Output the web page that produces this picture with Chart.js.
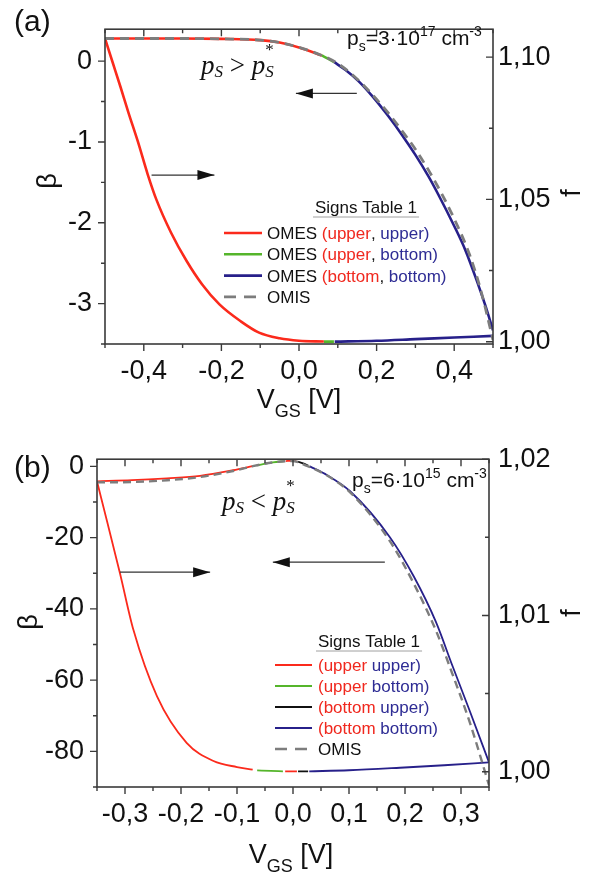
<!DOCTYPE html>
<html>
<head>
<meta charset="utf-8">
<script src="https://cdn.jsdelivr.net/npm/chart.js@4"></script>
<style>
  html, body { margin: 0; padding: 0; background: #fff; }
  #wrap { position: relative; width: 592px; height: 876px; }
  canvas { position: absolute; left: 0; }
  #chartA { top: 0; }
  #chartB { top: 430px; }
</style>
</head>
<body>
<div id="wrap">
  <canvas id="chartA" width="592" height="430"></canvas>
  <canvas id="chartB" width="592" height="446"></canvas>
</div>
<script>
// ---------- panel (a): p_s = 3e17 cm^-3 ----------
const aXTicks = [-0.4, -0.2, 0, 0.2, 0.4];
const aXMinor = [-0.5, -0.3, -0.1, 0.1, 0.3, 0.5];
const aYTicks = [0, -1, -2, -3];
const aYMinor = [-0.5, -1.5, -2.5, -3.5];
const aFTicks = [1.00, 1.05, 1.10];
const aFMinor = [1.025, 1.075];

const aUpperRedX = [-0.5, -0.3, -0.2, -0.1, -0.05, 0.0, 0.059];
const aUpperRedY = [0.28, 0.28, 0.275, 0.26, 0.23, 0.17, 0.07];
const aUpperGreenX = [0.059, 0.075, 0.09];
const aUpperGreenY = [0.07, 0.03, -0.01];
const aUpperBlueX = [0.09, 0.12, 0.154, 0.19, 0.23, 0.265, 0.30, 0.333, 0.359, 0.40, 0.428, 0.46, 0.48, 0.5];
const aUpperBlueY = [-0.01, -0.11, -0.25, -0.44, -0.68, -0.91, -1.16, -1.42, -1.65, -2.04, -2.33, -2.74, -3.02, -3.33];

const aLowerRedX = [-0.5, -0.48, -0.46, -0.44, -0.415, -0.39, -0.367, -0.33, -0.29, -0.25, -0.205, -0.15, -0.103, -0.05, 0.0, 0.064];
const aLowerRedY = [0.28, -0.02, -0.32, -0.63, -1.0, -1.40, -1.72, -2.12, -2.47, -2.76, -3.01, -3.22, -3.36, -3.43, -3.46, -3.47];
const aLowerGreenX = [0.064, 0.09];
const aLowerGreenY = [-3.47, -3.47];
const aLowerBlueX = [0.092, 0.2, 0.3, 0.4, 0.5];
const aLowerBlueY = [-3.47, -3.46, -3.44, -3.42, -3.40];

const aOmisX = [-0.5, -0.3, -0.2, -0.1, -0.05, 0.0, 0.059, 0.103, 0.154, 0.19, 0.23, 0.265, 0.30, 0.346, 0.40, 0.44, 0.47, 0.5];
const aOmisY = [0.28, 0.28, 0.275, 0.26, 0.23, 0.17, 0.07, -0.04, -0.24, -0.42, -0.64, -0.86, -1.09, -1.45, -1.95, -2.40, -2.86, -3.45];

// ---------- panel (b): p_s = 6e15 cm^-3 ----------
const bXTicks = [-0.3, -0.2, -0.1, 0, 0.1, 0.2, 0.3];
const bXMinor = [-0.35, -0.25, -0.15, -0.05, 0.05, 0.15, 0.25, 0.35];
const bYTicks = [0, -20, -40, -60, -80];
const bYMinor = [-10, -30, -50, -70, -90];
const bFTicks = [1.00, 1.01, 1.02];
const bFMinor = [1.005, 1.015];

const bUpperRed1X = [-0.35, -0.2875, -0.225, -0.166, -0.107, -0.072];
const bUpperRed1Y = [-4.2, -3.9, -3.36, -2.66, -1.1, 0.05];
const bUpperGreenX = [-0.065, -0.036, -0.015];
const bUpperGreenY = [0.25, 1.12, 1.45];
const bUpperRed2X = [-0.013, -0.002, 0.006];
const bUpperRed2Y = [1.48, 1.54, 1.45];
const bUpperBlackX = [0.008, 0.018, 0.027];
const bUpperBlackY = [1.35, 0.85, 0.25];
const bUpperBlueX = [0.03, 0.061, 0.102, 0.173, 0.216, 0.255, 0.284, 0.316, 0.35];
const bUpperBlueY = [0.0, -2.5, -7.0, -19.9, -31.0, -43.6, -55.7, -68.8, -83.1];

const bLowerRed1X = [-0.35, -0.343, -0.309, -0.285, -0.243, -0.19, -0.142, -0.1, -0.072];
const bLowerRed1Y = [-4.2, -8.6, -30.0, -45.9, -64.5, -77.6, -82.7, -84.4, -85.1];
const bLowerGreenX = [-0.064, -0.04, -0.018];
const bLowerGreenY = [-85.35, -85.5, -85.6];
const bLowerRed2X = [-0.014, 0.007];
const bLowerRed2Y = [-85.6, -85.6];
const bLowerBlackX = [0.009, 0.027];
const bLowerBlackY = [-85.6, -85.6];
const bLowerBlueX = [0.029, 0.1, 0.191, 0.27, 0.35];
const bLowerBlueY = [-85.6, -85.3, -84.6, -83.9, -83.1];

const bOmisX = [-0.35, -0.2875, -0.225, -0.166, -0.107, -0.073, -0.036, -0.002, 0.025, 0.061, 0.102, 0.173, 0.216, 0.255, 0.284, 0.316, 0.35];
const bOmisY = [-4.5, -4.4, -3.9, -3.0, -1.3, 0.0, 1.1, 1.5, 0.1, -2.6, -7.3, -21.0, -33.0, -46.0, -58.0, -72.0, -89.5];

// colours
const RED = '#fb2a1c';
const GREEN = '#55b52b';
const NAVY = '#27208a';
const GREY = '#7d7d7d';
const BLACK = '#111111';
const TXT_RED = '#f0281e';
const TXT_BLUE = '#2e2c94';

const SANS = 'Arial, "Liberation Sans", sans-serif';
const SERIF = '"Liberation Serif", "Times New Roman", serif';

function fmt(v, d) {
    return v.toFixed(d).replace('.', ',');
}

function series(xs, ys, color, width, dash) {
    return {
        data: xs.map((x, i) => ({ x: x, y: ys[i] })),
        borderColor: color,
        borderWidth: width,
        borderDash: dash || [],
        pointRadius: 0,
        fill: false,
        cubicInterpolationMode: 'monotone',
        order: dash ? 0 : 1
    };
}

// draws mixed-font text; parts = {t, f, dy, c, stack}
function rich(ctx, x, y, parts) {
    let cx = x, prev = x;
    ctx.textAlign = 'left';
    ctx.textBaseline = 'alphabetic';
    parts.forEach(p => {
        ctx.font = p.f;
        ctx.fillStyle = p.c || BLACK;
        const px = p.stack ? prev : cx;
        ctx.fillText(p.t, px, y + (p.dy || 0));
        if (!p.stack) {
            prev = cx;
            cx += ctx.measureText(p.t).width;
        }
    });
    return cx - x;
}

function richWidth(ctx, parts) {
    let w = 0;
    parts.forEach(p => { if (!p.stack) { ctx.font = p.f; w += ctx.measureText(p.t).width; } });
    return w;
}

function arrow(ctx, x0, x1, y) {
    ctx.strokeStyle = '#333';
    ctx.lineWidth = 1.3;
    ctx.beginPath();
    ctx.moveTo(x0, y);
    ctx.lineTo(x1, y);
    ctx.stroke();
    const dir = x1 > x0 ? 1 : -1;
    ctx.fillStyle = BLACK;
    ctx.beginPath();
    ctx.moveTo(x1, y);
    ctx.lineTo(x1 - dir * 17, y - 5);
    ctx.lineTo(x1 - dir * 17, y + 5);
    ctx.closePath();
    ctx.fill();
}

// frame, tick marks, titles, annotations and legend
const decorPlugin = {
    id: 'decor',
    afterDraw(chart, args, o) {
        const { ctx, chartArea: a, scales } = chart;
        const sx = scales.x, sy = scales.y, sf = scales.y1;
        ctx.save();

        // frame
        ctx.strokeStyle = '#3a3a3a';
        ctx.lineWidth = 1.6;
        ctx.strokeRect(a.left, a.top, a.right - a.left, a.bottom - a.top);

        ctx.lineWidth = 1.4;
        ctx.beginPath();
        const tick = (vals, len) => {
            vals.forEach(v => {
                const px = sx.getPixelForValue(v);
                ctx.moveTo(px, a.bottom); ctx.lineTo(px, a.bottom + len);
                ctx.moveTo(px, a.top); ctx.lineTo(px, a.top + len);
            });
        };
        tick(o.xTicks, 7);
        tick(o.xMinor, 4);
        o.yTicks.forEach(v => { const py = sy.getPixelForValue(v); ctx.moveTo(a.left, py); ctx.lineTo(a.left - 7, py); });
        o.yMinor.forEach(v => { const py = sy.getPixelForValue(v); ctx.moveTo(a.left, py); ctx.lineTo(a.left - 4, py); });
        o.fTicks.forEach(v => { const py = sf.getPixelForValue(v); ctx.moveTo(a.right, py); ctx.lineTo(a.right - 7, py); });
        o.fMinor.forEach(v => { const py = sf.getPixelForValue(v); ctx.moveTo(a.right, py); ctx.lineTo(a.right - 4, py); });
        ctx.stroke();

        // panel letter
        ctx.fillStyle = BLACK;
        ctx.font = '30px ' + SANS;
        ctx.textAlign = 'left';
        ctx.textBaseline = 'alphabetic';
        ctx.fillText(o.letter, 14, o.letterY);

        // x title
        const xt = [
            { t: 'V', f: '27px ' + SANS },
            { t: 'GS', f: '18px ' + SANS, dy: 9 },
            { t: ' [V]', f: '27px ' + SANS }
        ];
        rich(ctx, o.xTitleX - richWidth(ctx, xt) / 2, o.xTitleY, xt);

        // rotated axis titles
        ctx.font = '27px ' + SANS;
        ctx.textAlign = 'center';
        ctx.textBaseline = 'middle';
        [[o.betaPos, 'β'], [o.fPos, 'f']].forEach(([p, s]) => {
            ctx.save();
            ctx.translate(p[0], p[1]);
            ctx.rotate(-Math.PI / 2);
            ctx.fillText(s, 0, 0);
            ctx.restore();
        });

        // concentration label
        rich(ctx, o.psPos[0], o.psPos[1], [
            { t: 'p', f: '21px ' + SANS },
            { t: 's', f: '14px ' + SANS, dy: 6 },
            { t: '=' + o.psMant + '·10', f: '21px ' + SANS },
            { t: o.psExp, f: '14px ' + SANS, dy: -9 },
            { t: ' cm', f: '21px ' + SANS },
            { t: '-3', f: '14px ' + SANS, dy: -9 }
        ]);

        // p_S vs p_S* relation
        rich(ctx, o.relPos[0], o.relPos[1], [
            { t: 'p', f: 'italic 27px ' + SERIF },
            { t: 'S', f: 'italic 17px ' + SERIF, dy: 3 },
            { t: ' ' + o.relSign + ' ', f: '27px ' + SERIF },
            { t: 'p', f: 'italic 27px ' + SERIF },
            { t: 'S', f: 'italic 17px ' + SERIF, dy: 3 },
            { t: '*', f: '17px ' + SERIF, dy: -19, stack: true }
        ]);

        // arrows (positions in data units)
        o.arrows.forEach(ar => {
            arrow(ctx, sx.getPixelForValue(ar[0]), sx.getPixelForValue(ar[1]), sy.getPixelForValue(ar[2]));
        });

        // legend
        const L = o.legend;
        ctx.font = '17px ' + SANS;
        ctx.fillStyle = BLACK;
        ctx.textAlign = 'left';
        ctx.textBaseline = 'alphabetic';
        ctx.fillText('Signs Table 1', L.titleX, L.titleY);
        const tw = ctx.measureText('Signs Table 1').width;
        ctx.strokeStyle = '#a0a0a0';
        ctx.lineWidth = 1;
        ctx.beginPath();
        ctx.moveTo(L.titleX - 2, L.titleY + 4);
        ctx.lineTo(L.titleX + tw + 2, L.titleY + 4);
        ctx.stroke();
        L.items.forEach((it, i) => {
            const y = L.y0 + i * L.dy;
            ctx.strokeStyle = it.color;
            ctx.lineWidth = it.dash ? L.dashW : L.lineW;
            ctx.setLineDash(it.dash ? [12, 8] : []);
            ctx.beginPath();
            ctx.moveTo(L.lx0, y);
            ctx.lineTo(L.lx1, y);
            ctx.stroke();
            ctx.setLineDash([]);
            rich(ctx, L.tx, y + 6, it.parts.map(p => ({ t: p[0], f: '17px ' + SANS, c: p[1] })));
        });

        ctx.restore();
    }
};

function makePanel(id, c) {
    const tickFont = { family: SANS, size: 27 };
    const noGrid = { display: false, drawTicks: false };
    return new Chart(document.getElementById(id), {
        type: 'line',
        data: { datasets: c.datasets },
        options: {
            responsive: false,
            animation: false,
            events: [],
            layout: { padding: { top: c.top, left: 0, right: 0, bottom: 0 } },
            plugins: {
                legend: { display: false },
                tooltip: { enabled: false },
                decor: c.decor
            },
            scales: {
                x: {
                    type: 'linear', min: c.xMin, max: c.xMax,
                    grid: noGrid, border: { display: false },
                    afterBuildTicks: s => { s.ticks = c.xTicks.map(v => ({ value: v })); },
                    afterFit: s => { s.height = c.xAxisH; },
                    ticks: { font: tickFont, color: BLACK, padding: 11, autoSkip: false, maxRotation: 0,
                        callback: v => fmt(v, 1) }
                },
                y: {
                    type: 'linear', position: 'left', min: c.yMin, max: c.yMax,
                    grid: noGrid, border: { display: false },
                    afterBuildTicks: s => { s.ticks = c.yTicks.map(v => ({ value: v })); },
                    afterFit: s => { s.width = c.leftW; },
                    ticks: { font: tickFont, color: BLACK, padding: 13, autoSkip: false,
                        callback: v => fmt(v, 0) }
                },
                y1: {
                    type: 'linear', position: 'right', min: c.fMin, max: c.fMax,
                    grid: noGrid, border: { display: false },
                    afterBuildTicks: s => { s.ticks = c.fTicks.map(v => ({ value: v })); },
                    afterFit: s => { s.width = c.rightW; },
                    ticks: { font: tickFont, color: BLACK, padding: c.fPad, autoSkip: false,
                        callback: v => fmt(v, 2) }
                }
            }
        },
        plugins: [decorPlugin]
    });
}

// panel (a)
makePanel('chartA', {
    top: 16, xAxisH: 86, leftW: 105, rightW: 99, fPad: 5,
    xMin: -0.5, xMax: 0.5, yMin: -3.5, yMax: 0.395, fMin: 0.9992, fMax: 1.1098,
    xTicks: aXTicks, yTicks: aYTicks, fTicks: aFTicks,
    datasets: [
        series(aOmisX, aOmisY, GREY, 2.8, [9, 6]),
        series(aUpperRedX, aUpperRedY, RED, 2.6),
        series(aUpperGreenX, aUpperGreenY, GREEN, 2.6),
        series(aUpperBlueX, aUpperBlueY, NAVY, 2.6),
        series(aLowerRedX, aLowerRedY, RED, 2.6),
        series(aLowerGreenX, aLowerGreenY, GREEN, 2.6),
        series(aLowerBlueX, aLowerBlueY, NAVY, 2.6)
    ],
    decor: {
        xTicks: aXTicks, xMinor: aXMinor, yTicks: aYTicks, yMinor: aYMinor, fTicks: aFTicks, fMinor: aFMinor,
        letter: '(a)', letterY: 31,
        xTitleX: 299, xTitleY: 408,
        betaPos: [49, 181], fPos: [573, 193],
        psPos: [347, 45], psMant: '3', psExp: '17',
        relPos: [201, 74], relSign: '>',
        arrows: [[-0.38, -0.218, -1.41], [0.149, -0.008, -0.40]],
        legend: {
            titleX: 315, titleY: 213, y0: 233, dy: 21.3, lx0: 224, lx1: 262, tx: 267, lineW: 2.6, dashW: 2.8,
            items: [
                { color: RED, parts: [['OMES ', BLACK], ['(upper', TXT_RED], [', ', BLACK], ['upper)', TXT_BLUE]] },
                { color: GREEN, parts: [['OMES ', BLACK], ['(upper', TXT_RED], [', ', BLACK], ['bottom)', TXT_BLUE]] },
                { color: NAVY, parts: [['OMES ', BLACK], ['(bottom', TXT_RED], [', ', BLACK], ['bottom)', TXT_BLUE]] },
                { color: GREY, dash: true, parts: [['OMIS', BLACK]] }
            ]
        }
    }
});

// panel (b)
makePanel('chartB', {
    top: 29, xAxisH: 89, leftW: 97, rightW: 103, fPad: 9,
    xMin: -0.35, xMax: 0.35, yMin: -90, yMax: 2, fMin: 0.99902, fMax: 1.02,
    xTicks: bXTicks, yTicks: bYTicks, fTicks: bFTicks,
    datasets: [
        series(bOmisX, bOmisY, GREY, 2.4, [8, 5]),
        series(bUpperRed1X, bUpperRed1Y, RED, 1.8),
        series(bUpperGreenX, bUpperGreenY, GREEN, 1.8),
        series(bUpperRed2X, bUpperRed2Y, RED, 1.8),
        series(bUpperBlackX, bUpperBlackY, BLACK, 1.8),
        series(bUpperBlueX, bUpperBlueY, NAVY, 1.8),
        series(bLowerRed1X, bLowerRed1Y, RED, 1.8),
        series(bLowerGreenX, bLowerGreenY, GREEN, 1.8),
        series(bLowerRed2X, bLowerRed2Y, RED, 1.8),
        series(bLowerBlackX, bLowerBlackY, BLACK, 1.8),
        series(bLowerBlueX, bLowerBlueY, NAVY, 1.8)
    ],
    decor: {
        xTicks: bXTicks, xMinor: bXMinor, yTicks: bYTicks, yMinor: bYMinor, fTicks: bFTicks, fMinor: bFMinor,
        letter: '(b)', letterY: 47,
        xTitleX: 291, xTitleY: 433,
        betaPos: [30, 192], fPos: [573, 183],
        psPos: [352, 57], psMant: '6', psExp: '15',
        relPos: [222, 80], relSign: '<',
        arrows: [[-0.309, -0.148, -29.7], [0.164, -0.036, -26.9]],
        legend: {
            titleX: 318, titleY: 217, y0: 235, dy: 21, lx0: 275, lx1: 312, tx: 318, lineW: 2, dashW: 2.6,
            items: [
                { color: RED, parts: [['(upper', TXT_RED], [' upper)', TXT_BLUE]] },
                { color: GREEN, parts: [['(upper', TXT_RED], [' bottom)', TXT_BLUE]] },
                { color: BLACK, parts: [['(bottom', TXT_RED], [' upper)', TXT_BLUE]] },
                { color: NAVY, parts: [['(bottom', TXT_RED], [' bottom)', TXT_BLUE]] },
                { color: GREY, dash: true, parts: [['OMIS', BLACK]] }
            ]
        }
    }
});
</script>
</body>
</html>
